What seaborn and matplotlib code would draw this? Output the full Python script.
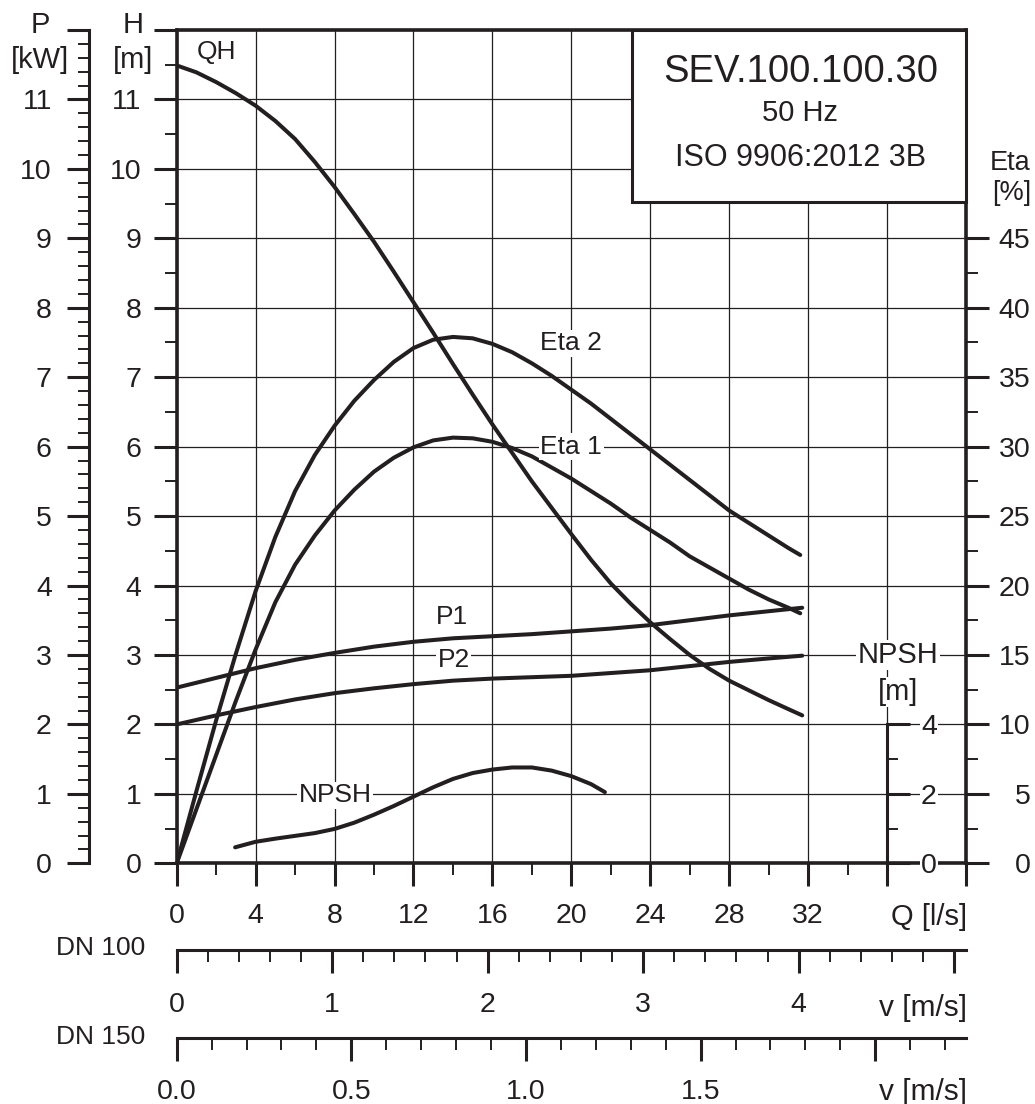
import matplotlib
matplotlib.use('Agg')
import matplotlib.pyplot as plt
import seaborn as sns
from matplotlib.patches import Rectangle

sns.set_style('white')
plt.rcParams['font.family'] = ['Liberation Sans', 'DejaVu Sans']

INK = '#231f20'

# curves (Q in l/s)
q_qh = [0, 1, 2, 3, 4, 5, 6, 7, 8, 9, 10, 11, 12, 13, 14, 15, 16, 17, 18, 19, 20,
        21, 22, 23, 24, 25, 26, 27, 28, 29, 30, 31, 31.7]
h_qh = [11.49, 11.39, 11.25, 11.09, 10.91, 10.69, 10.43, 10.10, 9.74, 9.35, 8.95,
        8.52, 8.08, 7.64, 7.19, 6.75, 6.32, 5.91, 5.50, 5.12, 4.74, 4.37, 4.03,
        3.74, 3.47, 3.23, 3.00, 2.80, 2.63, 2.49, 2.35, 2.22, 2.13]

q_eta = [0, 1, 2, 3, 4, 5, 6, 7, 8, 9, 10, 11, 12, 13, 14, 15, 16, 17, 18, 19, 20,
         21, 22, 23, 24, 25, 26, 27, 28, 29, 30, 31, 31.6]
eta2 = [0, 5.2, 10.3, 15.1, 19.6, 23.5, 26.8, 29.4, 31.5, 33.3, 34.8, 36.1, 37.1,
        37.7, 37.9, 37.8, 37.4, 36.8, 36.0, 35.1, 34.1, 33.1, 32.0, 30.9, 29.8,
        28.7, 27.6, 26.5, 25.4, 24.5, 23.6, 22.7, 22.2]
eta1 = [0, 3.9, 7.8, 11.7, 15.4, 18.8, 21.5, 23.6, 25.4, 26.9, 28.2, 29.2, 29.95,
        30.45, 30.65, 30.6, 30.35, 29.9, 29.3, 28.5, 27.7, 26.8, 25.9, 24.9, 24.0,
        23.1, 22.1, 21.3, 20.5, 19.7, 19.0, 18.4, 18.0]

q_p = [0, 2, 4, 6, 8, 10, 12, 14, 16, 18, 20, 22, 24, 26, 28, 30, 31.7]
p1 = [2.53, 2.67, 2.81, 2.93, 3.03, 3.12, 3.19, 3.24, 3.27, 3.30, 3.34, 3.38,
      3.43, 3.50, 3.57, 3.63, 3.68]
p2 = [2.0, 2.13, 2.25, 2.36, 2.45, 2.52, 2.58, 2.63, 2.66, 2.68, 2.70, 2.74,
      2.78, 2.84, 2.90, 2.95, 2.99]

q_npsh = [2.96, 4, 5, 6, 7, 8, 9, 10, 11, 12, 13, 14, 15, 16, 17, 18, 19, 20, 21, 21.7]
npsh = [0.46, 0.62, 0.71, 0.79, 0.87, 0.99, 1.17, 1.40, 1.65, 1.92, 2.19, 2.43,
        2.60, 2.70, 2.76, 2.76, 2.67, 2.51, 2.28, 2.05]

q_ticks = list(range(0, 41, 4))
q_labels = ['0', '4', '8', '12', '16', '20', '24', '28', '32', '', '']
h_labels = [str(i) for i in range(12)] + ['']
eta_ticks = list(range(0, 50, 5))
npsh_ticks = [0, 2, 4]
v100_ticks = [0, 1, 2, 3, 4, 5]
v100_labels = ['0', '1', '2', '3', '4', '']
v150_ticks = [0, 0.5, 1.0, 1.5, 2.0]
v150_labels = ['0.0', '0.5', '1.0', '1.5', '']
q_per_v100 = 7.88   # l/s per m/s in DN 100
q_per_v150 = 17.7   # l/s per m/s in DN 150

W, H = 1035, 1104
fig = plt.figure(figsize=(W / 100, H / 100), dpi=100)


def px_rect(x0, y0, x1, y1):
    return [x0 / W, 1 - y1 / H, (x1 - x0) / W, (y1 - y0) / H]


def ftext(x, y, s, **kw):
    kw.setdefault('color', INK)
    kw.setdefault('fontsize', 21)
    fig.text(x / W, 1 - y / H, s, **kw)


TICK = 20.5
LAB = 19
curve = dict(color=INK, linewidth=2.9, solid_capstyle='round', solid_joinstyle='round')
white = dict(facecolor='white', edgecolor='none', pad=1)

ax = fig.add_axes(px_rect(176.7, 30, 966, 863.3))
sns.lineplot(x=q_qh, y=h_qh, ax=ax, **curve)
ax.set_xlim(0, 40)
ax.set_ylim(0, 12)
ax.set_xticks(q_ticks)
ax.set_xticklabels(q_labels)
ax.set_xticks(range(0, 41, 2), minor=True)
ax.set_yticks(range(0, 13))
ax.set_yticklabels(h_labels)
ax.set_yticks([i + 0.5 for i in range(12)], minor=True)
ax.grid(which='major', color=INK, linewidth=0.9)
ax.grid(which='minor', visible=False)
for s in ax.spines.values():
    s.set_linewidth(2.6)
    s.set_color(INK)
ax.tick_params(axis='both', which='both', bottom=True, left=True, top=False, right=False)
ax.tick_params(axis='both', which='major', direction='out', length=16.5, width=2.2,
               color=INK, labelcolor=INK, labelsize=TICK)
ax.tick_params(axis='both', which='minor', direction='out', length=8.3, width=1.4, color=INK)
ax.tick_params(axis='x', which='major', pad=12)
ax.tick_params(axis='y', which='major', pad=9)
ax.text(2.03, 11.68, 'QH', ha='center', va='center', fontsize=LAB, color=INK)

# power axis on the far left
ax_p = ax.twinx()
sns.lineplot(x=q_p, y=p1, ax=ax_p, **curve)
sns.lineplot(x=q_p, y=p2, ax=ax_p, **curve)
ax_p.set_ylim(0, 12)
ax_p.yaxis.tick_left()
for s in ['top', 'bottom', 'right']:
    ax_p.spines[s].set_visible(False)
ax_p.spines['left'].set_visible(True)
ax_p.spines['left'].set_position(('axes', -0.1107))
ax_p.spines['left'].set_linewidth(2.2)
ax_p.spines['left'].set_color(INK)
ax_p.set_yticks(range(0, 13))
ax_p.set_yticklabels(h_labels)
ax_p.set_yticks([i * 0.2 for i in range(61)], minor=True)
ax_p.tick_params(axis='y', which='both', left=True, right=False)
ax_p.tick_params(axis='y', which='major', length=16, width=2.2, color=INK,
                 labelcolor=INK, labelsize=TICK, pad=11)
ax_p.tick_params(axis='y', which='minor', length=8, width=1.4, color=INK)
ax_p.text(13.95, 3.55, 'P1', ha='center', va='center', fontsize=LAB, color=INK)
ax_p.text(14.03, 2.93, 'P2', ha='center', va='center', fontsize=LAB, color=INK, bbox=white)

# efficiency axis on the right
ax_eta = ax.twinx()
sns.lineplot(x=q_eta, y=eta2, ax=ax_eta, **curve)
sns.lineplot(x=q_eta, y=eta1, ax=ax_eta, **curve)
ax_eta.set_ylim(0, 60)
for s in ax_eta.spines.values():
    s.set_visible(False)
ax_eta.set_yticks(eta_ticks)
ax_eta.set_yticks([2.5 + 5 * i for i in range(9)], minor=True)
ax_eta.tick_params(axis='y', which='both', right=True, left=False)
ax_eta.tick_params(axis='y', which='major', length=16.5, width=2.2, color=INK,
                   labelcolor=INK, labelsize=TICK, pad=30)
ax_eta.tick_params(axis='y', which='minor', length=8.5, width=1.4, color=INK)
plt.setp(ax_eta.get_yticklabels(), ha='right')
ax_eta.text(20.0, 37.45, 'Eta 2', ha='center', va='center', fontsize=LAB, color=INK, bbox=white)
ax_eta.text(20.0, 30.0, 'Eta 1', ha='center', va='center', fontsize=LAB, color=INK, bbox=white)

# NPSH axis inside the plot at Q = 36
ax_n = ax.twinx()
sns.lineplot(x=q_npsh, y=npsh, ax=ax_n, **curve)
ax_n.set_ylim(0, 24)
for s in ['top', 'bottom', 'left']:
    ax_n.spines[s].set_visible(False)
ax_n.spines['right'].set_position(('axes', 0.9))
ax_n.spines['right'].set_bounds(0, 4)
ax_n.spines['right'].set_linewidth(2.2)
ax_n.spines['right'].set_color(INK)
ax_n.set_yticks(npsh_ticks)
ax_n.set_yticks([1, 3], minor=True)
ax_n.tick_params(axis='y', which='both', right=True, left=False)
ax_n.tick_params(axis='y', which='major', length=16.5, width=2.2, color=INK,
                 labelcolor=INK, labelsize=TICK, pad=8)
ax_n.tick_params(axis='y', which='minor', length=8, width=1.4, color=INK)
for t in ax_n.get_yticklabels():
    t.set_bbox(white)
ax_n.text(8.03, 1.96, 'NPSH', ha='center', va='center', fontsize=LAB, color=INK, bbox=white)

# title box
ax.add_patch(Rectangle((23.09, 9.53), 40 - 23.09, 12 - 9.53, facecolor='white',
                       edgecolor=INK, linewidth=2.2, zorder=10, clip_on=False))
ax.text(31.6, 11.40, 'SEV.100.100.30', ha='center', va='center', fontsize=27.5, color=INK, zorder=11)
ax.text(31.6, 10.80, '50 Hz', ha='center', va='center', fontsize=21, color=INK, zorder=11)
ax.text(31.6, 10.15, 'ISO 9906:2012 3B', ha='center', va='center', fontsize=22, color=INK, zorder=11)

# velocity scales
for ybase, qv, ticks, labels, minor_step, pad in [
        (950, q_per_v100, v100_ticks, v100_labels, 0.2, 14),
        (1038, q_per_v150, v150_ticks, v150_labels, 0.1, 13)]:
    axv = fig.add_axes(px_rect(176.7, ybase - 1, 966, ybase))
    axv.patch.set_visible(False)
    for s in ['top', 'left', 'right']:
        axv.spines[s].set_visible(False)
    axv.spines['bottom'].set_linewidth(2.2)
    axv.spines['bottom'].set_color(INK)
    vmax = 40 / qv
    axv.set_xlim(0, vmax)
    axv.set_yticks([])
    axv.set_xticks(ticks)
    axv.set_xticklabels(labels)
    n = int(vmax / minor_step + 1e-6)
    axv.set_xticks([i * minor_step for i in range(n + 1)], minor=True)
    axv.tick_params(axis='x', which='both', bottom=True, top=False)
    axv.tick_params(axis='x', which='major', direction='out', length=16.5, width=2.2,
                    color=INK, labelcolor=INK, labelsize=TICK, pad=pad)
    axv.tick_params(axis='x', which='minor', direction='out', length=8.5, width=1.4, color=INK)

# axis captions
ftext(40, 25, 'P', ha='center', va='center')
ftext(40, 60, '[kW]', ha='center', va='center')
ftext(133, 25, 'H', ha='center', va='center')
ftext(133, 60, '[m]', ha='center', va='center')
ftext(1031, 163, 'Eta', ha='right', va='center', fontsize=19.5)
ftext(1031, 193, '[%]', ha='right', va='center', fontsize=19.5)
ftext(898, 655, 'NPSH', ha='center', va='center', bbox=white)
ftext(898, 692, '[m]', ha='center', va='center', bbox=white)
ftext(967, 917, 'Q [l/s]', ha='right', va='center')
ftext(967, 1008, 'v [m/s]', ha='right', va='center', fontsize=21.5)
ftext(967, 1092, 'v [m/s]', ha='right', va='center', fontsize=21.5)
ftext(145, 948, 'DN 100', ha='right', va='center', fontsize=19)
ftext(145, 1037, 'DN 150', ha='right', va='center', fontsize=19)

fig.savefig('out.png', dpi=100, facecolor='white')
